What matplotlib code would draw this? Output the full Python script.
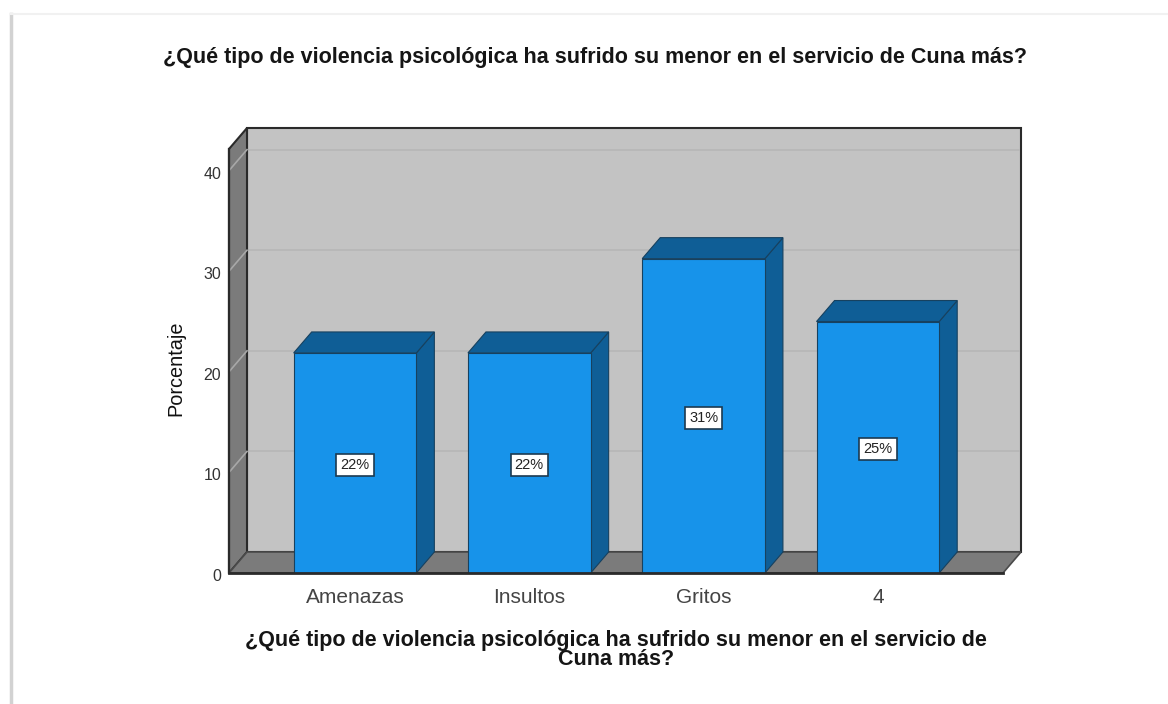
import matplotlib
matplotlib.use("Agg")
import matplotlib.pyplot as plt
from matplotlib.patches import Polygon, Rectangle
from matplotlib.lines import Line2D
from matplotlib.transforms import Affine2D

plt.rcParams['font.family'] = ['Liberation Sans', 'DejaVu Sans']

categories = ["Amenazas", "Insultos", "Gritos", "4"]
values = [21.875, 21.875, 31.25, 25.0]
labels = ["22%", "22%", "31%", "25%"]
y_ticks = [0, 10, 20, 30, 40]
title = "¿Qué tipo de violencia psicológica ha sufrido su menor en el servicio de Cuna más?"
x_title = "¿Qué tipo de violencia psicológica ha sufrido su menor en el servicio de\nCuna más?"

W, H = 1168, 704
wall_c = "#c3c3c3"
side_c = "#7b7b7b"
blue = "#1793ea"
blue_dark = "#0f5e96"
edge = "#2a2a2a"
bar_edge = "#17415f"

fig = plt.figure(figsize=(W / 100, H / 100), dpi=100, facecolor="white")

# card shadow on left / top of the screenshot
fig.add_artist(Line2D([10.5 / W, 10.5 / W], [0, 1 - 14 / H], color="#d2d2d2", lw=2.5))
fig.add_artist(Line2D([11 / W, 1], [1 - 14 / H, 1 - 14 / H], color="#f1f1f1", lw=1.5))

# front plane of the box
left, right, bottom, top = 229, 1003, 573, 149
ax = fig.add_axes([left / W, 1 - bottom / H, (right - left) / W, (bottom - top) / H])
ax.set_xlim(-0.723, 3.718)
ax.set_ylim(0, 42.15)
ax.patch.set_visible(False)
for s in ax.spines.values():
    s.set_visible(False)

# depth of the 3D effect in data units
dx = 18 / 174.3
dy = 21 / 10.06
bar_w = 0.704
x0, x1 = ax.get_xlim()
y0, y1 = ax.get_ylim()

ax.add_patch(Rectangle((x0 + dx, y0 + dy), x1 - x0, y1 - y0, fc=wall_c, ec=edge, lw=1.5, zorder=1, clip_on=False))
ax.add_patch(Polygon([(x0, y0), (x0 + dx, y0 + dy), (x0 + dx, y1 + dy), (x0, y1)],
                     fc=side_c, ec=edge, lw=1.5, zorder=2, clip_on=False))
ax.add_patch(Polygon([(x0, y0), (x0 + dx, y0 + dy), (x1 + dx, y0 + dy), (x1, y0)],
                     fc=side_c, ec="#4a4a4a", lw=1.2, zorder=2, clip_on=False))

for t in y_ticks[1:]:
    ax.plot([x0 + dx, x1 + dx - 0.01], [t + dy, t + dy], color="#b6b6b6", lw=1.2, zorder=1.5, clip_on=False)
    ax.plot([x0, x0 + dx], [t, t + dy], color="#a8a8a8", lw=1.2, zorder=2.5, clip_on=False)

for i, v in enumerate(values):
    xl, xr = i - bar_w / 2, i + bar_w / 2
    ax.add_patch(Polygon([(xr, 0), (xr + dx, dy), (xr + dx, v + dy), (xr, v)],
                         fc=blue_dark, ec=bar_edge, lw=0.8, zorder=3))
    ax.add_patch(Polygon([(xl, v), (xl + dx, v + dy), (xr + dx, v + dy), (xr, v)],
                         fc=blue_dark, ec=bar_edge, lw=0.8, zorder=3))
    ax.bar(i, v, width=bar_w, color=blue, edgecolor=bar_edge, lw=0.8, zorder=4)
    ax.annotate(labels[i], (i, v / 2), xytext=(0, -1.5), textcoords="offset points", ha="center", va="center",
                fontsize=10.5, color="#222222", zorder=5,
                bbox=dict(boxstyle="square,pad=0.28", fc="white", ec="#1c3a50", lw=1.2))

ax.plot([x0, x1], [0, 0], color=edge, lw=2, zorder=6, clip_on=False)
ax.plot([x0, x0], [0, y1], color=edge, lw=1.6, zorder=6, clip_on=False)

ax.set_xticks(range(len(categories)))
ax.set_xticklabels(categories, fontsize=15, color="#444444")
ax.set_yticks(y_ticks)
ax.set_yticklabels([str(t) for t in y_ticks], fontsize=11.5, color="#333333")
ax.tick_params(axis="both", length=0)
ax.tick_params(axis="x", pad=10.5)
ax.tick_params(axis="y", pad=5.5)
for lab in ax.get_yticklabels():
    lab.set_transform(lab.get_transform() + Affine2D().translate(0, -2))

fig.text(595 / W, 1 - 58 / H, title, ha="center", va="center", fontsize=15.5, fontweight="bold", color="#151515")
fig.text(616 / W, 1 - 650 / H, x_title, ha="center", va="center", fontsize=15.5, fontweight="bold",
         color="#151515", linespacing=0.9)
fig.text(176 / W, 1 - 368 / H, "Porcentaje", rotation=90, ha="center", va="center", fontsize=14.3,
         color="#111111")

fig.savefig("out.png", dpi=100)
